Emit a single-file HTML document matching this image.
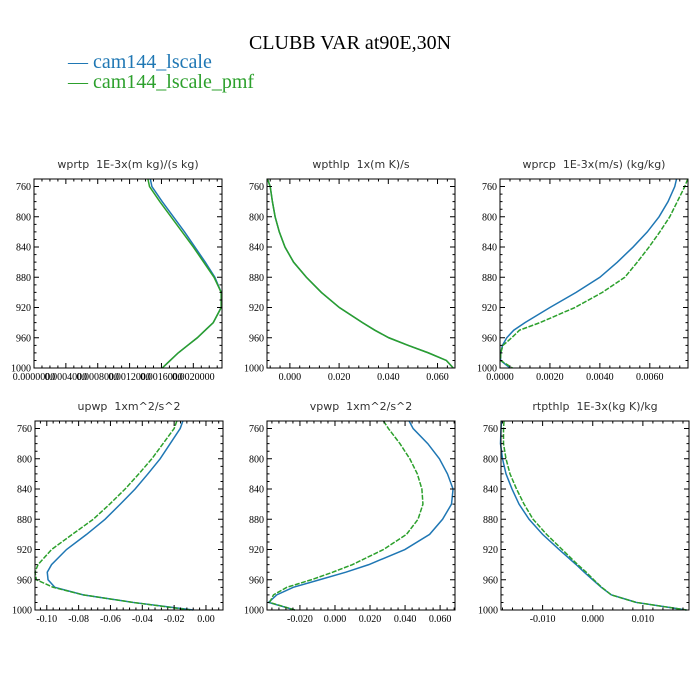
<!DOCTYPE html>
<html><head><meta charset="utf-8">
<style>
html,body{margin:0;padding:0;background:#fff;}
svg{display:block;}
.ttl{font-family:"DejaVu Sans","Liberation Sans",sans-serif;font-size:11px;fill:#333;}
.tk{font-family:"Liberation Serif",serif;font-size:10px;fill:#000;}
</style></head>
<body>
<svg id="chart" width="700" height="700" viewBox="0 0 700 700" xmlns="http://www.w3.org/2000/svg">
<rect x="0" y="0" width="700" height="700" fill="#fff"/>
<text x="350" y="49" text-anchor="middle" font-family="Liberation Serif, serif" font-size="20" fill="#000">CLUBB VAR at90E,30N</text>
<g>
<text x="68" y="68" font-family="Liberation Serif, serif" font-size="20" fill="#1f77b4">— cam144_lscale</text>
<text x="68" y="88" font-family="Liberation Serif, serif" font-size="20" fill="#2ca02c">— cam144_lscale_pmf</text>
</g>
</svg>
<script>
const levels = [750,760,780,800,820,840,860,880,900,920,940,950,960,970,980,990,1000];
const yTicks = [760,800,840,880,920,960,1000];

const wprtpBlue  = [0.00146,0.00148,0.00161,0.00175,0.00189,0.00202,0.00215,0.00227,0.00235,0.00235,0.00225,0.00215,0.00205,0.00193,0.00181,0.00171,0.00161];
const wprtpGreen = [0.00143,0.00145,0.00158,0.00172,0.00186,0.00200,0.00213,0.00226,0.00235,0.00235,0.00225,0.00215,0.00205,0.00193,0.00181,0.00171,0.00161];
const wprtpTicks = ["0.0000000","0.0004000","0.0008000","0.0012000","0.0016000","0.0020000"];

const wpthlpBlue  = [-0.0091,-0.0080,-0.0071,-0.0060,-0.0043,-0.0020,0.0015,0.0067,0.0128,0.0201,0.0295,0.0345,0.0402,0.0480,0.0563,0.0636,0.0664];
const wpthlpGreen = [-0.0091,-0.0080,-0.0071,-0.0060,-0.0043,-0.0020,0.0015,0.0067,0.0128,0.0201,0.0295,0.0345,0.0402,0.0480,0.0563,0.0636,0.0664];
const wpthlpTicks = ["0.000","0.020","0.040","0.060"];

const wprcpBlue  = [0.00707,0.00700,0.00673,0.00637,0.00590,0.00533,0.00470,0.00400,0.00305,0.00200,0.00100,0.00055,0.00027,0.00010,0.00003,0.00002,0.00040];
const wprcpGreen = [0.00752,0.00740,0.00710,0.00680,0.00640,0.00597,0.00550,0.00500,0.00410,0.00300,0.00160,0.00078,0.00047,0.00012,0.00003,0.00002,0.00050];
const wprcpTicks = ["0.0000","0.0020","0.0040","0.0060"];

const upwpBlue  = [-0.0145,-0.0162,-0.0225,-0.0288,-0.0365,-0.0445,-0.0538,-0.0634,-0.0750,-0.0876,-0.0970,-0.0997,-0.0992,-0.0949,-0.0771,-0.0457,-0.0080];
const upwpGreen = [-0.0183,-0.0200,-0.0270,-0.0340,-0.0422,-0.0508,-0.0605,-0.0708,-0.0840,-0.0970,-0.1055,-0.1074,-0.1065,-0.0960,-0.0771,-0.0457,-0.0099];
const upwpTicks = ["-0.10","-0.08","-0.06","-0.04","-0.02","0.00"];

const vpwpBlue  = [0.0423,0.0446,0.0530,0.0596,0.0642,0.0674,0.0665,0.0614,0.0540,0.0399,0.0193,0.0062,-0.0088,-0.0238,-0.0332,-0.0379,-0.0229];
const vpwpGreen = [0.0277,0.0305,0.0371,0.0427,0.0470,0.0496,0.0502,0.0474,0.0408,0.0277,0.0099,-0.0013,-0.0135,-0.0275,-0.0351,-0.0373,-0.0229];
const vpwpTicks = ["-0.020","0.000","0.020","0.040","0.060"];

const rtpthlpBlue  = [-0.0182,-0.0183,-0.0184,-0.0180,-0.0173,-0.0161,-0.0147,-0.0127,-0.0100,-0.0067,-0.0033,-0.0017,0.0000,0.0017,0.0037,0.0087,0.0187];
const rtpthlpGreen = [-0.0177,-0.0178,-0.0178,-0.0173,-0.0165,-0.0152,-0.0137,-0.0119,-0.0092,-0.0061,-0.0030,-0.0013,0.0002,0.0018,0.0037,0.0087,0.0187];
const rtpthlpTicks = ["-0.010","0.000","0.010"];

const panels = [
 {name:"wprtp",title:"wprtp  1E-3x(m kg)/(s kg)",x0:34,y0:179,xmin:0,xmax:0.00236,b:wprtpBlue,g:wprtpGreen,ticks:wprtpTicks,minor:0.0001,dash:false},
 {name:"wpthlp",title:"wpthlp  1x(m K)/s",x0:267,y0:179,xmin:-0.0093,xmax:0.0671,b:wpthlpBlue,g:wpthlpGreen,ticks:wpthlpTicks,minor:0.004,dash:false},
 {name:"wprcp",title:"wprcp  1E-3x(m/s) (kg/kg)",x0:500,y0:179,xmin:0,xmax:0.00753,b:wprcpBlue,g:wprcpGreen,ticks:wprcpTicks,minor:0.0004,dash:true},
 {name:"upwp",title:"upwp  1xm^2/s^2",x0:35,y0:421,xmin:-0.1074,xmax:0.0107,b:upwpBlue,g:upwpGreen,ticks:upwpTicks,minor:0.004,dash:true},
 {name:"vpwp",title:"vpwp  1xm^2/s^2",x0:267,y0:421,xmin:-0.0388,xmax:0.0685,b:vpwpBlue,g:vpwpGreen,ticks:vpwpTicks,minor:0.004,dash:true},
 {name:"rtpthlp",title:"rtpthlp  1E-3x(kg K)/kg",x0:501,y0:421,xmin:-0.0183,xmax:0.0192,b:rtpthlpBlue,g:rtpthlpGreen,ticks:rtpthlpTicks,minor:0.002,dash:true}
];
const W = 188, H = 189, YMIN = 750, YMAX = 1000;
const NS = "http://www.w3.org/2000/svg";
const svg = document.getElementById('chart');
function mk(tag, attrs, parent){
  const e = document.createElementNS(NS, tag);
  for (const k in attrs) e.setAttribute(k, attrs[k]);
  parent.appendChild(e);
  return e;
}
panels.forEach(p => {
  const xs = v => p.x0 + (v - p.xmin) / (p.xmax - p.xmin) * W;
  const ys = v => p.y0 + (v - YMIN) / (YMAX - YMIN) * H;
  const g = mk('g', {}, svg);
  
  
  const t = mk('text', {x: p.x0 + W/2, y: p.y0 - 11, 'text-anchor':'middle', class:'ttl'}, g);
  
  
  t.textContent = p.title;
  t.setAttribute('xml:space','preserve');
  t.style.whiteSpace = 'pre';
  // curves
  [[p.b, '#1f77b4', false, 'blue'], [p.g, '#2ca02c', p.dash, 'green']].forEach(([arr, col, dash, nm]) => {
    const d = arr.map((v, i) => (i ? 'L' : 'M') + xs(v).toFixed(2) + ',' + ys(levels[i]).toFixed(2)).join(' ');
    const path = mk('path', {d: d, fill:'none', stroke: col, 'stroke-width': 1.5}, g);
    if (dash) path.setAttribute('stroke-dasharray', '5,1.5');
    
    
  });
  // frame
  const fr = mk('rect', {x:p.x0, y:p.y0, width:W, height:H, fill:'none', stroke:'#000', 'stroke-width':1}, g);
  
  
  // y ticks
  let tk = '';
  for (let v = 760; v <= 1000; v += 10) {
    const y = ys(v), L = (v % 40 === 0) ? 5 : 2.5;
    tk += `M${p.x0},${y}h${L}M${p.x0+W},${y}h${-L}`;
  }
  yTicks.forEach(v => {
    const tt = mk('text', {x: p.x0 - 3, y: ys(v) + 3.5, 'text-anchor':'end', class:'tk'}, g);
    
    
    tt.textContent = v;
  });
  // x ticks
  const step = p.minor;
  const majorVals = p.ticks.map(Number);
  const majorStep = majorVals.length > 1 ? majorVals[1] - majorVals[0] : step * 5;
  const start = Math.ceil(p.xmin / step - 1e-6);
  const end = Math.floor(p.xmax / step + 1e-6);
  for (let i = start; i <= end; i++) {
    const v = i * step, x = xs(v);
    const r = v / majorStep;
    const L = Math.abs(r - Math.round(r)) < 1e-6 ? 5 : 2.5;
    tk += `M${x},${p.y0+H}v${-L}M${x},${p.y0}v${L}`;
  }
  const tp = mk('path', {d: tk, stroke:'#000', 'stroke-width':1, fill:'none'}, g);
  
  
  p.ticks.forEach(s => {
    const tt = mk('text', {x: xs(Number(s)), y: p.y0 + H + 12, 'text-anchor':'middle', class:'tk'}, g);
    
    
    tt.textContent = s;
  });
});
</script>
</body></html>
